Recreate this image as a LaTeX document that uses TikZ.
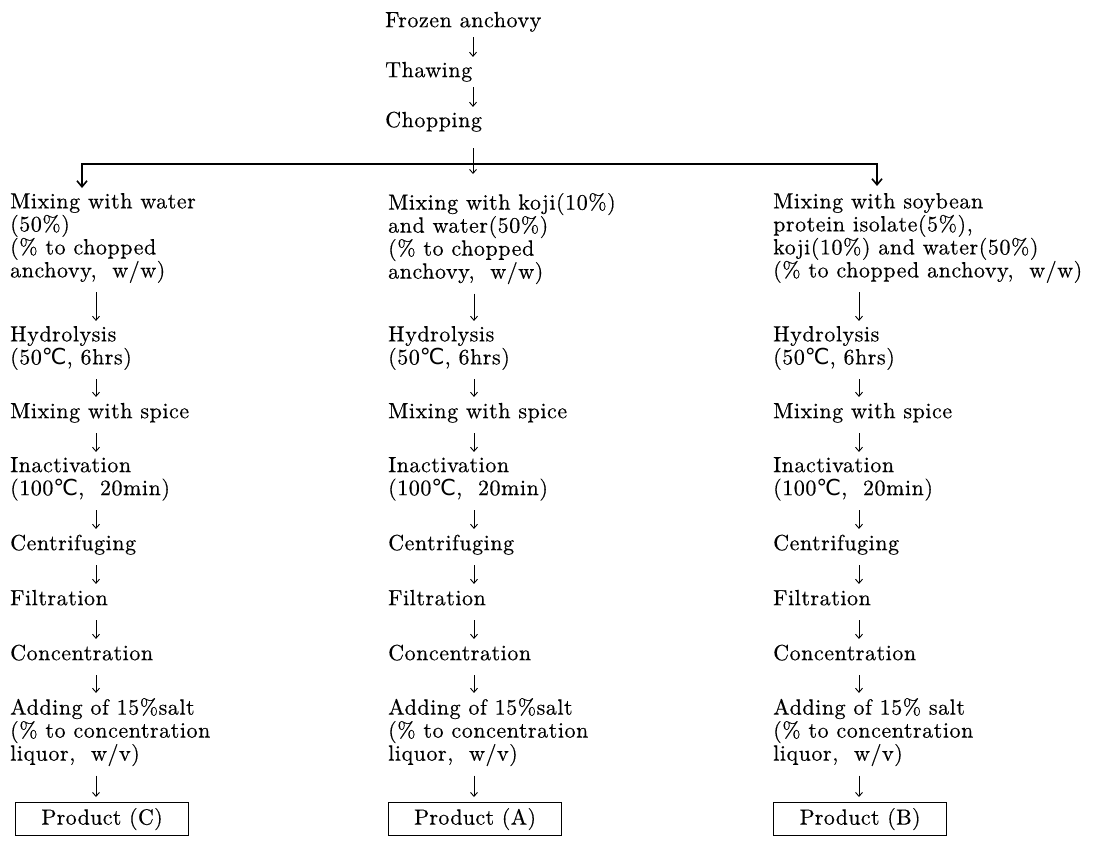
\documentclass[tikz,border=0pt]{standalone}
\usepackage{fontspec}
\newfontfamily\stagefont{lmroman10-regular.otf}[LetterSpace=2.5,FakeBold=0.4]
\newfontfamily\boxfont{lmroman10-regular.otf}[LetterSpace=1.5,FakeBold=0.4]
\newfontfamily\symfont{DejaVu Sans}
\usetikzlibrary{arrows.meta}
\newcommand{\degc}{{\symfont ℃}}

\begin{document}
\begin{tikzpicture}[x=1pt, y=-1pt,
  stage/.style={anchor=north west, inner sep=0pt, align=left,
    font=\fontsize{22}{23}\stagefont,
    execute at begin node=\strut, execute at end node=\strut},
  flow/.style={-{Straight Barb[length=4pt,width=7pt]}, line width=0.9pt,
    shorten <=8pt, shorten >=5pt},
  branch/.style={-{Straight Barb[length=6pt,width=10pt]}, line width=1.6pt},
  prod/.style={draw, line width=1.2pt, anchor=north west, minimum width=173pt,
    minimum height=33pt, inner sep=0pt, font=\fontsize{22}{23}\boxfont}]

\useasboundingbox (0,0) rectangle (1095,846);

\node[stage] (frozen) at (385,10.9) {Frozen anchovy};
\node[stage] (thaw) at (385,60.9) {Thawing};
\node[stage] (chop) at (385,110.9) {Chopping};

\coordinate (spine) at (473,0);
\coordinate (split) at (473,164);
\coordinate (splitend) at (473,174);
\coordinate (lend) at (82,188);
\coordinate (rend) at (877,186);

\draw[flow, shorten <=3pt, shorten >=4pt] (frozen.south -| spine) -- (thaw.north -| spine);
\draw[flow, shorten <=3pt, shorten >=4pt] (thaw.south -| spine) -- (chop.north -| spine);
\draw[flow, shorten <=14pt, shorten >=0pt] (chop.south -| spine) -- (splitend);
\draw[branch] (split) -| (lend);
\draw[branch] (split) -| (rend);

\node[stage] (mixc) at (10,192.9) {Mixing with water\\(50\%)\\(\% to chopped\\anchovy,~ w/w)};
\node[stage] (mixa) at (388,192.9) {Mixing with koji(10\%)\\and water(50\%)\\(\% to chopped\\anchovy,~ w/w)};
\node[stage] (mixb) at (773,192.9) {Mixing with soybean\\protein isolate(5\%),\\koji(10\%) and water(50\%)\\(\% to chopped anchovy,~ w/w)};

\foreach \c/\x in {c/10,a/388,b/773}{
  \coordinate (ax\c) at (\x+86,0);
  \node[stage] (hyd\c) at (\x,325.9) {Hydrolysis\\(50\degc, 6hrs)};
  \node[stage] (spice\c) at (\x,401.9) {Mixing with spice};
  \node[stage] (inact\c) at (\x,456.9) {Inactivation\\(100\degc,~ 20min)};
  \node[stage] (centr\c) at (\x,533.9) {Centrifuging};
  \node[stage] (filt\c) at (\x,588.9) {Filtration};
  \node[stage] (conc\c) at (\x,643.9) {Concentration};
}

\node[stage] (addc) at (10,697.9) {Adding of 15\%salt\\(\% to concentration\\liquor,~ w/v)};
\node[stage] (adda) at (388,697.9) {Adding of 15\%salt\\(\% to concentration\\liquor,~ w/v)};
\node[stage] (addb) at (773,697.9) {Adding of 15\% salt\\(\% to concentration\\liquor,~ w/v)};

\node[prod] (prodc) at (15,802) {Product (C)};
\node[prod] (proda) at (388,802) {Product (A)};
\node[prod] (prodb) at (773,802) {Product (B)};

\foreach \c in {c,a,b}{
  \foreach \p/\n in {mix/hyd,hyd/spice,spice/inact,inact/centr,centr/filt,filt/conc,conc/add,add/prod}
    \draw[flow] (\p\c.south -| ax\c) -- (\n\c.north -| ax\c);
}

\end{tikzpicture}
\end{document}
